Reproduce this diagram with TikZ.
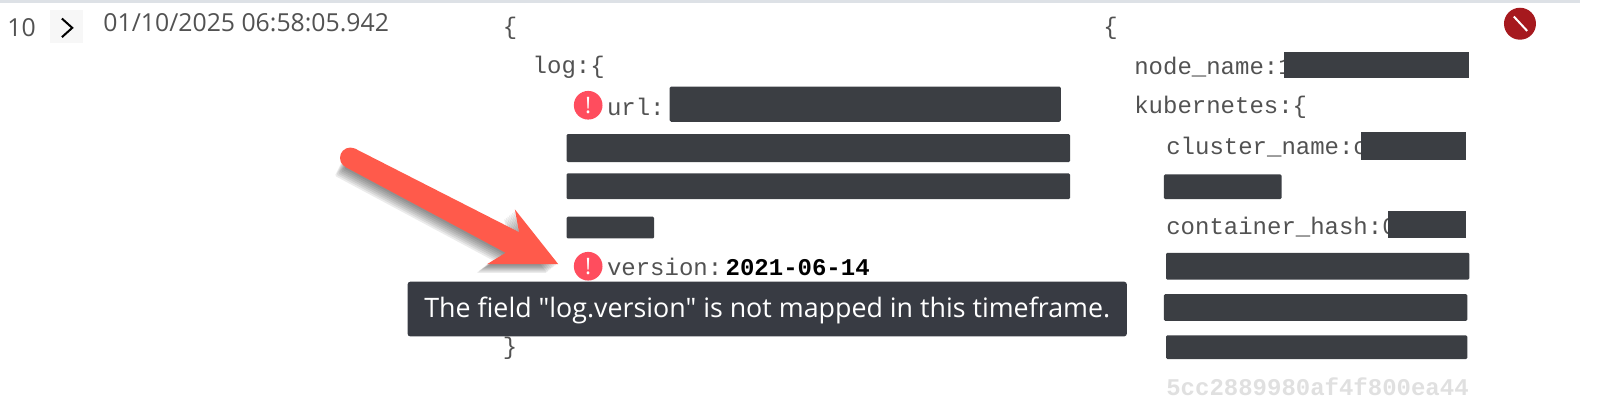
\documentclass[tikz,border=0pt]{standalone}
\usepackage{fontspec}
\newfontfamily\uifont{Open Sans}
\newfontfamily\logmono{Liberation Mono}
\definecolor{redactgray}{HTML}{3B3E43}
\definecolor{tipgray}{HTML}{383B43}
\definecolor{labelgray}{HTML}{525252}
\definecolor{warnred}{HTML}{FF4D5E}
\definecolor{stopred}{HTML}{A6191E}
\definecolor{arrowred}{HTML}{FF5A4B}
\definecolor{ruleblue}{HTML}{DDE1E6}
\tikzset{
  monotext/.style={anchor=west, inner sep=0pt, text=labelgray, font=\logmono\fontsize{18}{20}\selectfont},
  sanstext/.style={anchor=west, inner sep=0pt, text=labelgray, font=\uifont\fontsize{18.6}{22}\selectfont},
  redact/.style={fill=redactgray, rounded corners=1pt},
  warnmark/.style={circle, fill=warnred, text=white, inner sep=0pt, minimum size=21.5pt, font=\uifont\fontsize{17}{17}\selectfont},
}
\begin{document}
\begin{tikzpicture}[x=0.774pt, y=-0.774pt]
\useasboundingbox (0,0) rectangle (1568,393.4);

\fill[ruleblue] (0,0) rectangle (1531,3); % top rule

\node[sanstext] (rownum) at (7,27) {10};
\fill[black!3] (48,10) rectangle (80,42); % expand button
\draw[line width=1.5pt, black] (60,18) -- (70,27) -- (60,36); % chevron
\node[sanstext] (stamp) at (100,22) {01/10/2025 06:58:05.942};

\node[monotext] (openlog) at (487,27) {\{};
\node[monotext] (logkey) at (516,65) {log:\{};
\node[warnmark] (warnurl) at (570,102) {!};
\node[monotext] (urlkey) at (588,104) {url:};
\fill[redact] (649,84) rectangle (1028,118); % url value
\fill[redact] (549,130) rectangle (1037,157); % url value
\fill[redact] (549,168) rectangle (1037,193); % url value
\fill[redact] (549,210) rectangle (634,231); % url value
\node[warnmark] (warnver) at (570,258) {!};
\node[monotext] (verkey) at (588,259) {version:};
\node[monotext, text=black, font=\logmono\bfseries\fontsize{18}{20}\selectfont] (verval) at (703,259) {2021-06-14};
\node[monotext] (closelog) at (487,338) {\}};

% arrow shadow
\foreach \s in {1,2,...,7}
  \fill[black, opacity=0.08, rounded corners=1pt, xshift=-1.5*\s*0.774pt, yshift=-1.2*\s*0.774pt]
    (344,144) -- (503,225) -- (499,203) -- (541,256) -- (472,256) -- (490,245) -- (335,162) -- cycle;
% arrow
\fill[arrowred] (344,144) -- (503,225) -- (499,203) -- (541,256) -- (472,256) -- (490,245) -- (335,162) -- cycle;
\fill[arrowred] (339.5,153) circle (10);

\fill[tipgray, rounded corners=2pt] (395,273) rectangle (1092,326); % tooltip
\node[sanstext, text=white, font=\uifont\fontsize{20.1}{22}\selectfont] (tiptext) at (411,301) {The field "log.version" is not mapped in this timeframe.};

\node[monotext] (opendoc) at (1069,27) {\{};
\node[monotext] (nodekey) at (1099,65) {node\_name:1};
\fill[redactgray] (1244,50) rectangle (1424,76); % node name
\node[monotext] (k8skey) at (1099,104) {kubernetes:\{};
\node[monotext] (clusterkey) at (1130,143) {cluster\_name:c};
\fill[redactgray] (1319,128) rectangle (1421,155); % cluster name
\fill[redact] (1128,169) rectangle (1242,193); % cluster name
\node[monotext] (hashkey) at (1130,220) {container\_hash:0};
\fill[redactgray] (1345,204) rectangle (1421,231); % hash
\fill[redact] (1130,245) rectangle (1424,271); % hash
\fill[redact] (1128,285) rectangle (1422,311); % hash
\fill[redact] (1130,325) rectangle (1422,348); % hash
\node[monotext, text=black!12, font=\logmono\bfseries\fontsize{18}{20}\selectfont] (hashtail) at (1130,375) {5cc2889980af4f800ea44};

\fill[stopred] (1473,23) circle (15.5); % stop icon
\draw[white, line width=1.5pt] (1467,16) -- (1480,30);
\end{tikzpicture}
\end{document}
